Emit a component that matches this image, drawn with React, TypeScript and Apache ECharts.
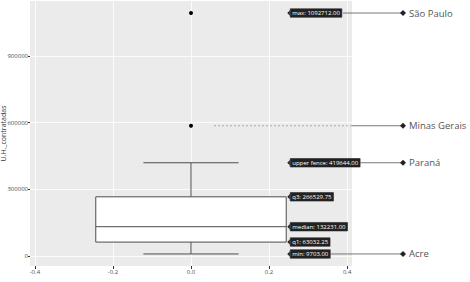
import React, { useEffect, useRef } from "react";
import * as echarts from "echarts";

// ---- data ----
const statNames = ["min", "q1", "median", "q3", "upper fence", "max"];
const statValues = [9703.0, 63032.25, 132231.0, 266529.75, 419644.0, 1092712.0];
const outlierValues = [1092712, 586000];
const stateNames = ["São Paulo", "Minas Gerais", "Paraná", "Acre"];
const stateValues = [1092712, 586000, 419644, 9703];
const xTicks = [-0.4, -0.2, 0, 0.2, 0.4];
const yTicks = [0, 300000, 600000, 900000];

// ---- layout / style ----
const BOX_HALF = 0.244;
const CAP_HALF = 0.122;
const LINE_START = [343, 352, 359, 330];
const DIAMOND_X = 403;
const STATE_TEXT_X = 409;
const LINE_COLOR = "#4d4d4d";

export default function App() {
  const ref = useRef<HTMLDivElement>(null);
  useEffect(() => {
    const chart = echarts.init(ref.current!, null, { renderer: "svg" });
    const gridLineStyle = { color: "#ffffff", width: 0.8, type: "solid" };
    const option: any = {
      animation: false,
      backgroundColor: "#ffffff",
      grid: {
        left: 30,
        top: 1,
        right: 118,
        bottom: 16,
        show: true,
        backgroundColor: "#EBEBEB",
        borderWidth: 0,
        containLabel: false,
        outerBoundsMode: "none",
      },
      xAxis: {
        type: "value",
        min: -0.4125,
        max: 0.4125,
        axisLine: { show: false, onZero: false },
        axisTick: { show: true, length: 3, lineStyle: { color: "#333" }, customValues: xTicks },
        axisLabel: {
          customValues: xTicks,
          fontSize: 6,
          color: "#4d4d4d",
          margin: 3,
          fontFamily: "Open Sans",
          formatter: (v: number) => v.toFixed(1),
        },
        splitLine: { show: false },
      },
      yAxis: {
        type: "value",
        min: -44447,
        max: 1146862,
        name: "U.H._contratadas",
        nameLocation: "middle",
        nameGap: 23,
        nameMoveOverlap: false,
        nameTextStyle: { fontSize: 7, color: "#333", fontFamily: "Open Sans" },
        axisLine: { show: false, onZero: false },
        axisTick: { show: true, length: 2, lineStyle: { color: "#333" }, customValues: yTicks },
        axisLabel: {
          customValues: yTicks,
          fontSize: 6,
          color: "#4d4d4d",
          margin: 2,
          fontFamily: "Open Sans",
          formatter: (v: number) => String(v),
        },
        splitLine: { show: false },
      },
      series: [
        {
          type: "scatter",
          data: [],
          z: 0,
          silent: true,
          markLine: {
            silent: true,
            z: 0,
            symbol: "none",
            label: { show: false },
            lineStyle: gridLineStyle,
            data: [
              ...yTicks.map((v) => ({ yAxis: v })),
              ...xTicks.map((v) => ({ xAxis: v })),
            ],
          },
        },
        {
          type: "custom",
          data: [[0, statValues[0], statValues[1], statValues[2], statValues[3], statValues[4]]],
          encode: { x: 0, y: [1, 2, 3, 4, 5] },
          z: 2,
          renderItem: (params: any, api: any) => {
            const x = api.value(0);
            const mn = api.value(1), q1 = api.value(2), md = api.value(3), q3 = api.value(4), uf = api.value(5);
            const pL = api.coord([x - BOX_HALF, q3]);
            const pR = api.coord([x + BOX_HALF, q1]);
            const c = api.coord([x, md]);
            const yMin = api.coord([x, mn])[1];
            const yUf = api.coord([x, uf])[1];
            const yQ1 = pR[1], yQ3 = pL[1], yMd = c[1];
            const cl = api.coord([x - CAP_HALF, 0])[0];
            const cr = api.coord([x + CAP_HALF, 0])[0];
            const st = { stroke: LINE_COLOR, lineWidth: 1, fill: "none" };
            return {
              type: "group",
              children: [
                { type: "line", shape: { x1: c[0], y1: yQ3, x2: c[0], y2: yUf }, style: st },
                { type: "line", shape: { x1: c[0], y1: yQ1, x2: c[0], y2: yMin }, style: st },
                { type: "line", shape: { x1: cl, y1: yUf, x2: cr, y2: yUf }, style: st },
                { type: "line", shape: { x1: cl, y1: yMin, x2: cr, y2: yMin }, style: st },
                {
                  type: "rect",
                  shape: { x: pL[0], y: yQ3, width: pR[0] - pL[0], height: yQ1 - yQ3 },
                  style: { fill: "#ffffff", stroke: LINE_COLOR, lineWidth: 1 },
                },
                { type: "line", shape: { x1: pL[0], y1: yMd, x2: pR[0], y2: yMd }, style: st },
              ],
            };
          },
        },
        {
          type: "scatter",
          data: outlierValues.map((v) => [0, v]),
          symbolSize: 4,
          z: 3,
          itemStyle: { color: "#000000", borderWidth: 0, opacity: 1 },
        },
        {
          type: "custom",
          data: stateValues.map((v) => [0, v]),
          encode: { x: 0, y: 1 },
          z: 5,
          renderItem: (params: any, api: any) => {
            const i = params.dataIndex;
            const p = api.coord([api.value(0), api.value(1)]);
            const y = p[1];
            const right = params.coordSys.x + params.coordSys.width;
            const children: any[] = [];
            if (i === 1) {
              children.push({
                type: "line",
                shape: { x1: p[0] + 23, y1: y, x2: right, y2: y },
                style: { stroke: "#999", lineWidth: 0.8, lineDash: [2, 2] },
              });
            }
            children.push({
              type: "line",
              shape: { x1: LINE_START[i], y1: y, x2: DIAMOND_X, y2: y },
              style: { stroke: "#555", lineWidth: 0.8 },
            });
            children.push({
              type: "polygon",
              shape: { points: [[DIAMOND_X - 3, y], [DIAMOND_X, y - 3], [DIAMOND_X + 3, y], [DIAMOND_X, y + 3]] },
              style: { fill: "#222" },
            });
            children.push({
              type: "text",
              x: STATE_TEXT_X,
              y: y,
              style: {
                text: stateNames[i],
                fontSize: 9.5,
                fill: "#555",
                fontFamily: "Open Sans",
                verticalAlign: "middle",
                align: "left",
              },
            });
            return { type: "group", children };
          },
        },
        {
          type: "custom",
          data: statValues.map((v) => [BOX_HALF, v]),
          encode: { x: 0, y: 1 },
          z: 10,
          renderItem: (params: any, api: any) => {
            const i = params.dataIndex;
            const p = api.coord([api.value(0), api.value(1)]);
            const tipX = p[0] + 1;
            const y = p[1];
            return {
              type: "group",
              children: [
                {
                  type: "polygon",
                  shape: { points: [[tipX, y], [tipX + 3, y - 3], [tipX + 3, y + 3]] },
                  style: { fill: "#222" },
                },
                {
                  type: "text",
                  x: tipX + 3,
                  y: y,
                  style: {
                    text: statNames[i] + ": " + statValues[i].toFixed(2),
                    fontSize: 6,
                    fill: "#ffffff",
                    fontFamily: "Open Sans",
                    verticalAlign: "middle",
                    align: "left",
                    backgroundColor: "#222",
                    borderColor: "#777",
                    borderWidth: 0.5,
                    padding: [1.5, 2, 1, 2],
                  },
                },
              ],
            };
          },
        },
      ],
    };
    chart.setOption(option);
    return () => chart.dispose();
  }, []);
  return <div ref={ref} style={{ position: "fixed", left: 0, top: 0, width: 470, height: 282 }} />;
}
